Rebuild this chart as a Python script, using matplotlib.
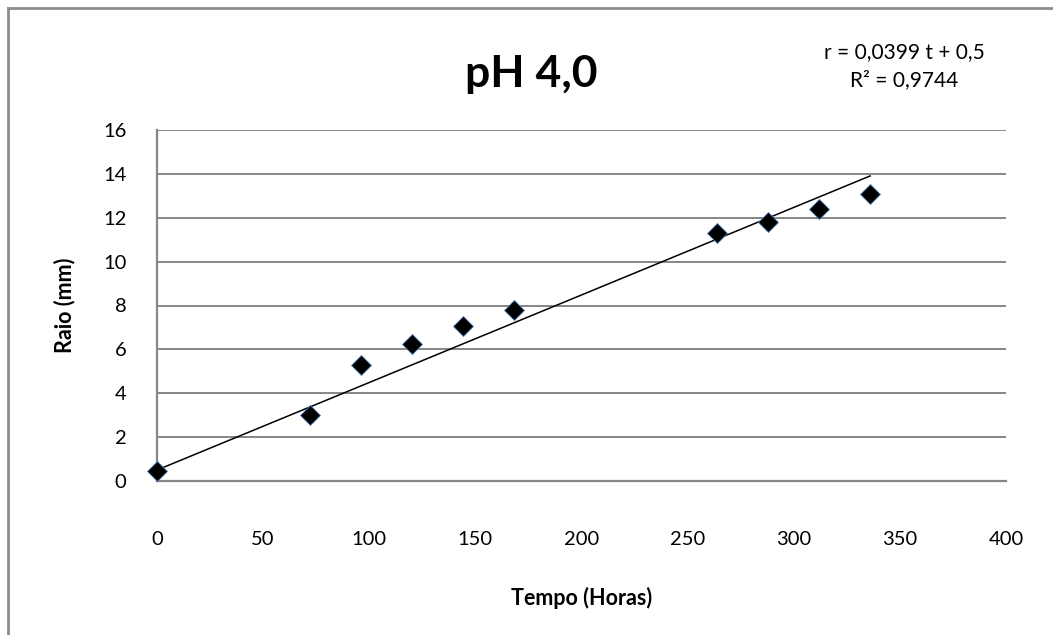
import matplotlib
matplotlib.use("Agg")
import matplotlib.pyplot as plt
from matplotlib.lines import Line2D
import numpy as np

# Data
tempo = [0, 72, 96, 120, 144, 168, 264, 288, 312, 336]
raio = [0.45, 3.0, 5.3, 6.25, 7.05, 7.8, 11.3, 11.8, 12.4, 13.1]
slope = 0.0399
intercept = 0.5
x_ticks = [0, 50, 100, 150, 200, 250, 300, 350, 400]
y_ticks = [0, 2, 4, 6, 8, 10, 12, 14, 16]
title = "pH 4,0"
eq_text = "r = 0,0399 t + 0,5\nR² = 0,9744"
x_label = "Tempo (Horas)"
y_label = "Raio (mm)"

plt.rcParams['font.family'] = ['Lato', 'DejaVu Sans']

fig = plt.figure(figsize=(10.53, 6.35), dpi=100)
ax = fig.add_axes([157/1053, 1-481/635, (1006-157)/1053, (481-130)/635])

grid_c = '#868686'
for yv in y_ticks[1:]:
    ax.axhline(yv, color=grid_c, lw=1.4, zorder=1)

t_line = np.array([min(tempo), max(tempo)])
ax.plot(t_line, slope * t_line + intercept, color='black', lw=1.1, zorder=2)
ax.plot(tempo, raio, linestyle='none', marker='D', markersize=10.5,
        markerfacecolor='black', markeredgecolor='#4a7ebb', markeredgewidth=0.6,
        zorder=3, clip_on=False)

ax.set_xlim(0, 400)
ax.set_ylim(0, 16)
ax.set_xticks(x_ticks)
ax.set_yticks(y_ticks)
ax.set_xticklabels([str(v) for v in x_ticks])
ax.set_yticklabels([str(v) for v in y_ticks])
ax.tick_params(axis='both', length=0, labelsize=14.5, colors='black')
ax.tick_params(axis='x', pad=36)
ax.tick_params(axis='y', pad=22)
for s in ['top', 'right']:
    ax.spines[s].set_visible(False)
for s in ['left', 'bottom']:
    ax.spines[s].set_color(grid_c)
    ax.spines[s].set_linewidth(1.6)

ax.set_xlabel(x_label, fontsize=15.5, fontweight='bold', labelpad=28)
ax.set_ylabel(y_label, fontsize=15.5, fontweight='bold', labelpad=20)

fig.text(531/1053, 1-74/635, title, fontsize=32, fontweight='bold',
         ha='center', va='center')
fig.text(904/1053, 1-66/635, eq_text, fontsize=15, ha='center', va='center',
         linespacing=1.5)

# outer chart frame
fig.add_artist(Line2D([8/1053, 8/1053], [0, 1-8/635], transform=fig.transFigure,
                      color='#8c8c8c', lw=2))
fig.add_artist(Line2D([8/1053, 1], [1-8/635, 1-8/635], transform=fig.transFigure,
                      color='#8c8c8c', lw=2))

fig.savefig('out.png', dpi=100)
